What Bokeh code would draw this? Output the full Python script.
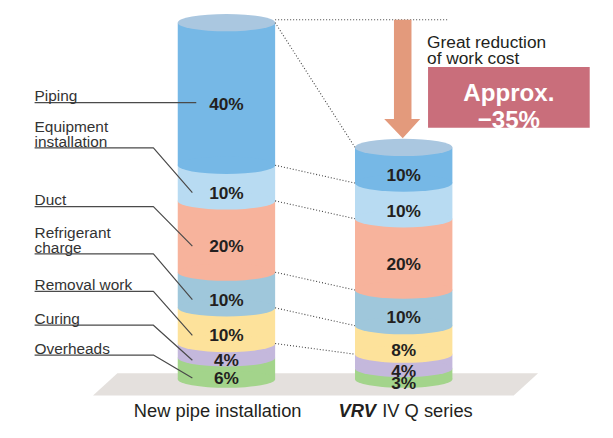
from bokeh.plotting import figure
from bokeh.models import Range1d, ColumnDataSource
from bokeh.embed import file_html
from bokeh.resources import INLINE
from bokeh.core.properties import value
import numpy as np

# ---------------- data ----------------
categories = ["New pipe installation", "VRV IV Q series"]
items = ["Overheads", "Curing", "Removal work", "Refrigerant charge",
         "Duct", "Equipment installation", "Piping"]          # bottom -> top
item_lines = [["Overheads"], ["Curing"], ["Removal work"], ["Refrigerant", "charge"],
              ["Duct"], ["Equipment", "installation"], ["Piping"]]
new_values = [6, 4, 10, 10, 20, 10, 40]
vrv_values = [3, 4, 8, 10, 20, 10, 10]
note_lines = ["Great reduction", "of work cost"]

# ---------------- styles ----------------
colors = ["#A3D48B", "#C4B8DC", "#FDE29B", "#9FC7DB", "#F7B39C", "#B8DBF2", "#76B8E6"]
top_color = "#AAC7E0"
text_color = "#231F20"
FONT = value("Liberation Sans")

W, H = 597, 422
REF_W, REF_H = 613, 438
S = H / REF_H                 # font scale
PX = 3.7                      # reference pixels per percent unit
def py(ref_y):                # reference pixel row -> y units (0 % at row 393)
    return (393 - ref_y) / PX
def u(px):
    return px / PX
def fs(px):
    return f"{px * S:.1f}px"

p = figure(width=W, height=H, x_range=Range1d(0, REF_W), y_range=Range1d(py(REF_H), py(0)),
           output_backend="svg", toolbar_location=None, min_border=0,
           x_axis_type=None, y_axis_type=None)
p.grid.visible = False
p.outline_line_color = None
p.background_fill_color = "white"

# ground plane
p.patch(x=[95, 120, 552, 527], y=[py(410), py(387), py(387), py(410)],
        fill_color="#E4E0DD", line_color=None)

col_x = [232, 414]
half_w = 50
ell_h = u(18)

tops_all = []
for xc, vals in zip(col_x, [new_values, vrv_values]):
    vals = np.array(vals, dtype=float)
    tops = np.cumsum(vals)
    bottoms = tops - vals
    tops_all.append(tops)
    n = len(vals)
    src = ColumnDataSource(dict(
        left=[xc - half_w] * n, right=[xc + half_w] * n, x=[xc] * n,
        bottom=bottoms, top=tops, color=colors,
        mid=(bottoms + tops) / 2 - u(10),
        label=[f"{int(v)}%" for v in vals]))
    p.quad(left="left", right="right", bottom="bottom", top="top",
           fill_color="color", line_color=None, source=src)
    p.ellipse(x="x", y="bottom", width=2 * half_w, height=ell_h,
              fill_color="color", line_color=None, source=src)
    p.ellipse(x=xc, y=tops[-1], width=2 * half_w, height=ell_h,
              fill_color=top_color, line_color=None)
    p.text(x="x", y="mid", text="label", source=src, text_font=FONT,
           text_font_style="bold", text_font_size=fs(18), text_align="center",
           text_baseline="middle", text_color=text_color)

new_tops, vrv_tops = tops_all

# dotted connectors between columns
p.segment(x0=[col_x[0] + half_w] * 6, y0=list(new_tops[1:]),
          x1=[col_x[1] - half_w] * 6, y1=list(vrv_tops[1:]),
          line_color="#444444", line_width=1.1, line_dash="1 2")
p.segment(x0=[col_x[0] + half_w], y0=[new_tops[-1] + u(3)], x1=[460], y1=[new_tops[-1] + u(3)],
          line_color="#444444", line_width=1.1, line_dash="1 2")

# leader lines and item labels
line_y_px = [368, 337, 302, 263, 214, 153, 106]
new_arr = np.array(new_values, dtype=float)
new_mid = np.cumsum(new_arr) - new_arr / 2 - u(10)
for i, lines in enumerate(item_lines):
    ly = py(line_y_px[i])
    target = new_mid[i]
    if i == len(item_lines) - 1:
        xs, ys = [35, 201], [ly, ly]
    else:
        xs, ys = [35, 157, 197], [ly, ly, target]
    p.line(xs, ys, line_color="#4A4A4A", line_width=1.2)
    nl = len(lines)
    for k, t in enumerate(lines):
        base_px = line_y_px[i] - 7 - 15 * (nl - 1 - k)
        p.text(x=[35], y=[py(base_px)], text=[t], text_font=FONT, text_font_size=fs(16),
               text_align="left", text_baseline="alphabetic", text_color="#333333")

# arrow
ax = col_x[1] - 1
p.patch(x=[ax - 9, ax + 9, ax + 9, ax + 18, ax, ax - 19, ax - 9],
        y=[py(20), py(20), py(123), py(123), py(143), py(123), py(123)],
        fill_color="#E39A7C", line_color=None)

# note
for k, t in enumerate(note_lines):
    p.text(x=[438], y=[py(43 + 17 * k)], text=[t], text_font=FONT, text_font_size=fs(18),
           text_align="left", text_baseline="alphabetic", text_color=text_color)

reduction = round(100 * (1 - sum(vrv_values) / sum(new_values)))
p.quad(left=[439], right=[605], top=[py(69)], bottom=[py(132)],
       fill_color="#C96E7B", line_color=None)
p.text(x=[522, 522], y=[py(95), py(123)], text=["Approx.", f"\u2212{reduction}%"],
       text_font=FONT, text_font_style="bold", text_font_size=fs(25),
       text_align="center", text_baseline="alphabetic", text_color="white")

# category labels
base_y = py(426)
p.text(x=[223], y=[base_y], text=[categories[0]], text_font=FONT, text_font_size=fs(19),
       text_align="center", text_baseline="alphabetic", text_color=text_color)
p.text(x=[347], y=[base_y], text=["VRV"], text_font=FONT, text_font_size=fs(19),
       text_font_style="bold italic", text_align="left", text_baseline="alphabetic",
       text_color=text_color)
p.text(x=[392], y=[base_y], text=[categories[1].replace("VRV ", "")], text_font=FONT,
       text_font_size=fs(19), text_align="left", text_baseline="alphabetic",
       text_color=text_color)

open("out.html", "w").write(file_html(p, INLINE))
